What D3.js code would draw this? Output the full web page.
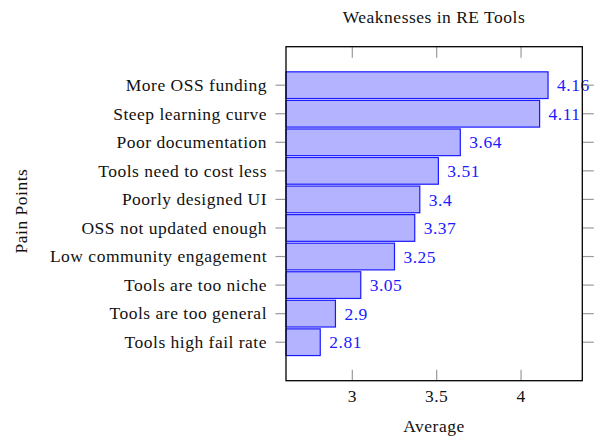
<!DOCTYPE html>
<html><head><meta charset="utf-8">
<script src="https://cdn.jsdelivr.net/npm/d3@7"></script>
<style>body{margin:0;background:#fff}svg{display:block}text{font-family:"Liberation Serif","DejaVu Serif",serif;letter-spacing:0.5px}</style>
</head><body><svg id="c" width="597" height="436"></svg>
<script>
const categories = ["More OSS funding","Steep learning curve","Poor documentation","Tools need to cost less","Poorly designed UI","OSS not updated enough","Low community engagement","Tools are too niche","Tools are too general","Tools high fail rate"];
const values = [4.16,4.11,3.64,3.51,3.4,3.37,3.25,3.05,2.9,2.81];
const xTicks = [3,3.5,4];
const title = "Weaknesses in RE Tools";
const xLabel = "Average";
const yLabel = "Pain Points";

const svg = d3.select("#c");
const L=286, R=582.3, T=46.7, B=380.7;
const FS=17.5;
const x = d3.scaleLinear().domain([2.607,4.363]).range([L,R]);
const y = d3.scaleBand().domain(categories).range([T,B]).paddingInner(0.065).paddingOuter(0.88);

const tickCol="#9a9a9a";
// bars
svg.append("g").selectAll("rect").data(values).join("rect")
  .attr("x", L).attr("y",(d,i)=>y(categories[i]))
  .attr("width", d=>x(d)-L).attr("height", y.bandwidth())
  .attr("fill","#b3b3ff").attr("stroke","#1a1aff").attr("stroke-width",1.2);
// value labels
svg.append("g").selectAll("text").data(values).join("text")
  .attr("x", d=>x(d)+9).attr("y",(d,i)=>y(categories[i])+y.bandwidth()/2)
  .attr("dy","0.35em").attr("font-size",FS).attr("fill","#1a1aff").text(d=>String(d));
// y ticks (both sides, outside)
const yt = svg.append("g");
categories.forEach(c=>{
  const yy = y(c)+y.bandwidth()/2;
  yt.append("line").attr("x1",L-10.5).attr("x2",L).attr("y1",yy).attr("y2",yy).attr("stroke",tickCol).attr("stroke-width",1.2);
  yt.append("line").attr("x1",R).attr("x2",R+11.5).attr("y1",yy).attr("y2",yy).attr("stroke",tickCol).attr("stroke-width",1.2);
  yt.append("text").attr("x",L-19).attr("y",yy).attr("dy","0.33em").attr("text-anchor","end").attr("font-size",FS).attr("fill","#111").text(c);
});
// x ticks (inside, top and bottom)
const xt = svg.append("g");
xTicks.forEach(t=>{
  const xx = x(t);
  xt.append("line").attr("x1",xx).attr("x2",xx).attr("y1",T).attr("y2",T+11).attr("stroke",tickCol).attr("stroke-width",1.2);
  xt.append("line").attr("x1",xx).attr("x2",xx).attr("y1",B-11).attr("y2",B).attr("stroke",tickCol).attr("stroke-width",1.2);
  xt.append("text").attr("x",xx).attr("y",402).attr("text-anchor","middle").attr("font-size",FS).attr("fill","#111").text(String(t));
});
// frame
svg.append("rect").attr("x",L).attr("y",T).attr("width",R-L).attr("height",B-T).attr("fill","none").attr("stroke","#000").attr("stroke-width",1.3);
// titles
svg.append("text").attr("x",434).attr("y",23).attr("text-anchor","middle").attr("font-size",FS).attr("fill","#111").text(title);
svg.append("text").attr("x",434).attr("y",432).attr("text-anchor","middle").attr("font-size",FS).attr("fill","#111").text(xLabel);
svg.append("text").attr("transform","translate(27,211) rotate(-90)").attr("text-anchor","middle").attr("font-size",FS).attr("fill","#111").text(yLabel);
</script></body></html>
